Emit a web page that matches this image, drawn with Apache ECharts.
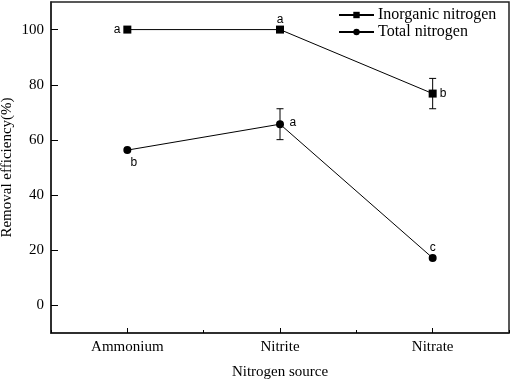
<!DOCTYPE html>
<html>
<head>
<meta charset="utf-8">
<script src="https://cdn.jsdelivr.net/npm/echarts@6/dist/echarts.min.js"></script>
<style>
  html, body { margin: 0; padding: 0; background: #fff; }
  #chart { width: 512px; height: 381px; }
</style>
</head>
<body>
<div id="chart"></div>
<script>
// data
var sources = ['Ammonium', 'Nitrite', 'Nitrate'];
var inorganic = [100, 100, 76.8];
var inorganicErr = [0, 0, 5.5];
var inorganicLetters = ['a', 'a', 'b'];
var total = [56.3, 65.7, 17.2];
var totalErr = [0, 5.6, 0];
var totalLetters = ['b', 'a', 'c'];

var serif = '"Liberation Serif", "Times New Roman", serif';
var sans = '"Liberation Sans", Arial, sans-serif';

function errData(vals, errs) {
  var out = [];
  vals.forEach(function (v, i) {
    if (errs[i] > 0) out.push([i, v - errs[i], v + errs[i]]);
  });
  return out;
}

function withLetters(vals, letters, positions, dists) {
  return vals.map(function (v, i) {
    return {
      value: v,
      label: { show: true, formatter: letters[i], position: positions[i], distance: dists[i] }
    };
  });
}

function renderErr(params, api) {
  var x = api.value(0);
  var lo = api.coord([x, api.value(1)]);
  var hi = api.coord([x, api.value(2)]);
  var w = 3.5;
  var st = { stroke: '#000', lineWidth: 1 };
  return {
    type: 'group',
    children: [
      { type: 'line', shape: { x1: lo[0], y1: lo[1], x2: hi[0], y2: hi[1] }, style: st },
      { type: 'line', shape: { x1: lo[0] - w, y1: lo[1], x2: lo[0] + w, y2: lo[1] }, style: st },
      { type: 'line', shape: { x1: hi[0] - w, y1: hi[1], x2: hi[0] + w, y2: hi[1] }, style: st }
    ]
  };
}

var chart = echarts.init(document.getElementById('chart'));
chart.setOption({
  animation: false,
  backgroundColor: '#fff',
  grid: {
    left: 51, top: 2, right: 3, bottom: 48,
    outerBoundsMode: 'none',
    containLabel: false,
    show: true, borderColor: '#222', borderWidth: 1.5
  },
  legend: {
    left: 333, top: 2,
    orient: 'vertical',
    itemWidth: 35, itemHeight: 8, itemGap: 1,
    textStyle: { fontFamily: serif, fontSize: 16, color: '#000', padding: [0, 0, 0, -1] },
    data: ['Inorganic nitrogen', 'Total nitrogen']
  },
  xAxis: [{
    type: 'category',
    data: sources,
    boundaryGap: true,
    name: 'Nitrogen source',
    nameLocation: 'middle',
    nameGap: 32,
    nameTextStyle: { fontFamily: serif, fontSize: 15, color: '#000' },
    axisLine: { onZero: false, lineStyle: { color: '#222', width: 1.5 } },
    axisTick: { show: true, alignWithLabel: true, inside: true, length: 5, lineStyle: { color: '#000', width: 1 } },
    axisLabel: { fontFamily: serif, fontSize: 15, color: '#000', margin: 7 },
    splitLine: { show: false }
  }, {
    // short ticks between categories
    type: 'category',
    data: sources,
    boundaryGap: true,
    position: 'bottom',
    axisLine: { show: false, onZero: false },
    axisTick: { show: true, inside: true, length: 3, lineStyle: { color: '#000', width: 1 } },
    axisLabel: { show: false },
    splitLine: { show: false }
  }],
  yAxis: {
    type: 'value',
    position: 'left',
    min: -10, max: 110,
    splitNumber: 6,
    name: 'Removal efficiency(%)',
    nameLocation: 'middle',
    nameGap: 36,
    nameMoveOverlap: false,
    nameTextStyle: { fontFamily: serif, fontSize: 15, color: '#000' },
    axisLine: { show: true, onZero: false, lineStyle: { color: '#222', width: 1.5 } },
    axisTick: { show: true, inside: true, length: 7, lineStyle: { color: '#000', width: 1 } },
    axisLabel: { fontFamily: serif, fontSize: 15, color: '#000', margin: 7, showMinLabel: false, showMaxLabel: false },
    splitLine: { show: false }
  },
  series: [{
    name: 'Inorganic nitrogen',
    type: 'line',
    symbol: 'rect',
    symbolSize: 8,
    itemStyle: { color: '#000' },
    lineStyle: { color: '#000', width: 1 },
    label: { fontFamily: sans, fontSize: 12, color: '#000' },
    data: withLetters(inorganic, inorganicLetters, ['left', 'top', 'right'], [3, 0, 3])
  }, {
    name: 'Total nitrogen',
    type: 'line',
    symbol: 'circle',
    symbolSize: 8,
    itemStyle: { color: '#000' },
    lineStyle: { color: '#000', width: 1 },
    label: { fontFamily: sans, fontSize: 12, color: '#000' },
    data: withLetters(total, totalLetters, [['90%', '130%'], ['170%', '-40%'], 'top'], [3, 3, 0])
  }, {
    type: 'custom',
    renderItem: renderErr,
    encode: { x: 0, y: [1, 2] },
    data: errData(inorganic, inorganicErr).concat(errData(total, totalErr)),
    z: 1
  }]
});
</script>
</body>
</html>
